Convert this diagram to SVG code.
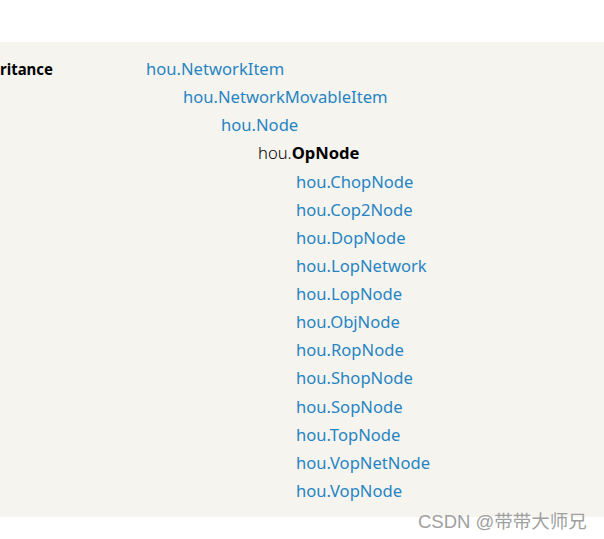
<svg xmlns="http://www.w3.org/2000/svg" width="604" height="539" viewBox="0 0 604 539">
<style>
.l{font-family:"Noto Sans","Open Sans",sans-serif;font-size:16.6px;fill:#2784c3}
.b{font-family:"Noto Sans","Open Sans",sans-serif;font-size:16.6px;font-weight:bold;fill:#000}
.t{font-family:"Noto Sans","Open Sans",sans-serif;font-size:16.6px;font-weight:300;fill:#000}
.w{font-family:"Liberation Sans","Noto Sans CJK SC",sans-serif;font-size:18.5px;fill:#a0a0a0}
</style>
<rect x="0" y="0" width="604" height="539" fill="#fff"/>
<rect x="0" y="42" width="604" height="475" fill="#f5f4ee"/>
<text class="b" x="0" y="75" textLength="53" lengthAdjust="spacingAndGlyphs">ritance</text>
<g id="NetworkItem"><text class="l" x="146" y="75">hou.NetworkItem</text></g>
<g id="NetworkMovableItem"><text class="l" x="183" y="103">hou.NetworkMovableItem</text></g>
<g id="Node"><text class="l" x="221" y="131">hou.Node</text></g>
<g id="OpNode"><text x="258" y="159"><tspan class="t">hou.</tspan><tspan class="b">OpNode</tspan></text></g>
<g id="ChopNode"><text class="l" x="296" y="188">hou.ChopNode</text></g>
<g id="Cop2Node"><text class="l" x="296" y="216">hou.Cop2Node</text></g>
<g id="DopNode"><text class="l" x="296" y="244">hou.DopNode</text></g>
<g id="LopNetwork"><text class="l" x="296" y="272">hou.LopNetwork</text></g>
<g id="LopNode"><text class="l" x="296" y="300">hou.LopNode</text></g>
<g id="ObjNode"><text class="l" x="296" y="328">hou.ObjNode</text></g>
<g id="RopNode"><text class="l" x="296" y="356">hou.RopNode</text></g>
<g id="ShopNode"><text class="l" x="296" y="384">hou.ShopNode</text></g>
<g id="SopNode"><text class="l" x="296" y="413">hou.SopNode</text></g>
<g id="TopNode"><text class="l" x="296" y="441">hou.TopNode</text></g>
<g id="VopNetNode"><text class="l" x="296" y="469">hou.VopNetNode</text></g>
<g id="VopNode"><text class="l" x="296" y="497">hou.VopNode</text></g>
<g id="connectors"></g>
<text class="w" x="418" y="528">CSDN @带带大师兄</text>
</svg>
